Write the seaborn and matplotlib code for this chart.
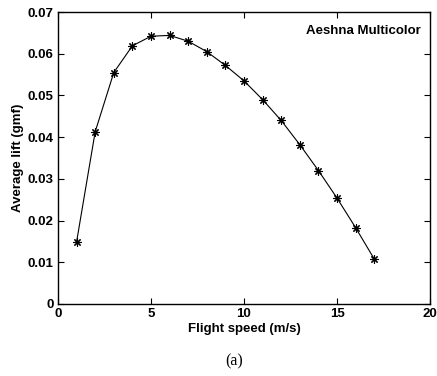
import matplotlib
matplotlib.use("Agg")
import matplotlib.pyplot as plt
import seaborn as sns
import pandas as pd

# Flight speed (m/s) and average lift (gmf)
speed = [1, 2, 3, 4, 5, 6, 7, 8, 9, 10, 11, 12, 13, 14, 15, 16, 17]
lift = [0.0149, 0.0413, 0.0555, 0.0619, 0.0642, 0.0644, 0.0630, 0.0605,
        0.0572, 0.0535, 0.0490, 0.0440, 0.0382, 0.0320, 0.0254, 0.0183, 0.0108]
x_ticks = [0, 5, 10, 15, 20]
y_ticks = [0, 0.01, 0.02, 0.03, 0.04, 0.05, 0.06, 0.07]
y_tick_labels = ["0", "0.01", "0.02", "0.03", "0.04", "0.05", "0.06", "0.07"]

df = pd.DataFrame({"speed": speed, "lift": lift})

sns.set_style("ticks")
plt.rcParams["font.family"] = ["Liberation Sans", "DejaVu Sans"]
plt.rcParams["text.color"] = "black"
plt.rcParams["axes.labelcolor"] = "black"

fig = plt.figure(figsize=(4.37, 3.76), dpi=100)
ax = fig.add_axes([0.1327, 0.1915, 0.8513, 0.7765])

sns.lineplot(data=df, x="speed", y="lift", ax=ax, color="black", linewidth=0.8,
             marker=(8, 2, 0), markersize=6, markeredgecolor="black",
             markeredgewidth=0.8)

ax.set_xlim(0, 20)
ax.set_ylim(0, 0.07)
ax.set_xticks(x_ticks)
ax.set_xticklabels([str(t) for t in x_ticks], fontsize=9.5, fontweight="bold")
ax.set_yticks(y_ticks)
ax.set_yticklabels(y_tick_labels, fontsize=9.5, fontweight="bold")
ax.tick_params(direction="in", length=4, width=0.8, top=True, right=True,
               pad=3, colors="black", labelcolor="black")
for s in ax.spines.values():
    s.set_visible(True)
    s.set_linewidth(1.0)
    s.set_color("black")

ax.set_xlabel("Flight speed (m/s)", fontsize=9.5, fontweight="bold", labelpad=2,
              color="black")
ax.set_ylabel("Average lift (gmf)", fontsize=9.5, fontweight="bold", labelpad=3,
              color="black")

ax.text(0.975, 0.935, "Aeshna Multicolor", transform=ax.transAxes,
        ha="right", va="center", fontsize=9.5, fontweight="bold", color="black")

fig.text(0.535, 0.038, "(a)", ha="center", va="center", fontsize=11.5,
         color="black", family=["Liberation Serif", "DejaVu Serif"])

fig.savefig("out.png", dpi=100)
